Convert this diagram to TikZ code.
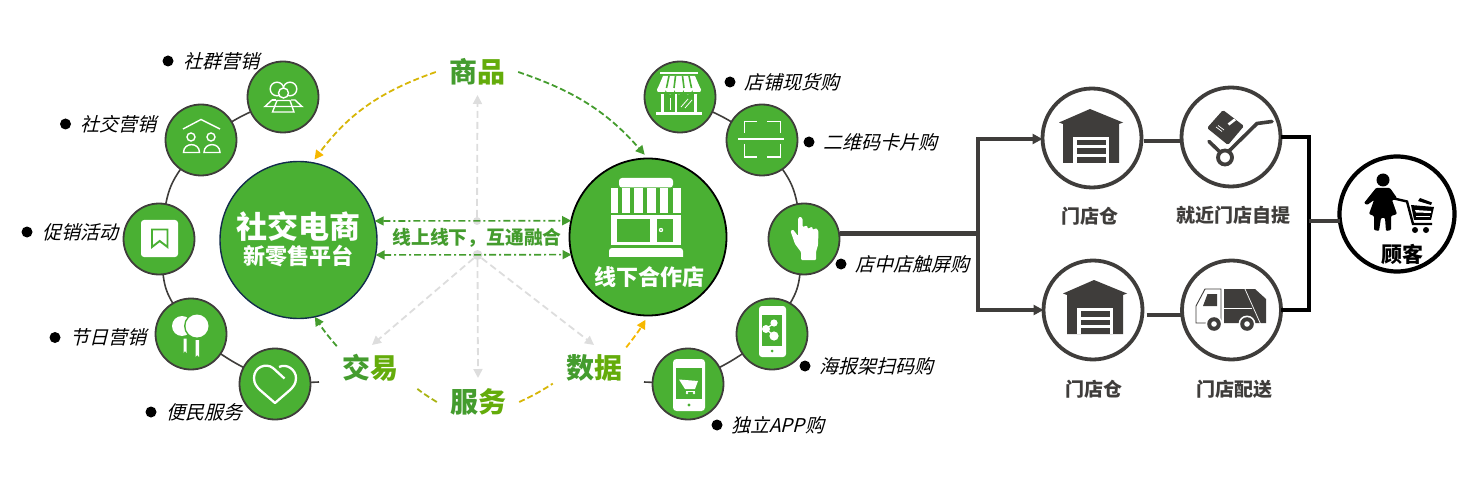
\documentclass[tikz,border=0pt]{standalone}
\usepackage{fontspec}
\usepackage{tikz}
\usetikzlibrary{arrows.meta,positioning,backgrounds}
\newfontfamily\cjk{Noto Sans CJK SC}
\newfontfamily\cjkslant[FakeSlant=0.25]{Noto Sans CJK SC}
\definecolor{leaf}{HTML}{4AB033}
\definecolor{deep}{HTML}{449C2E}
\definecolor{olive}{HTML}{A9B312}
\definecolor{amber}{HTML}{F6B800}
\definecolor{coal}{HTML}{3F3D3B}
\definecolor{pale}{HTML}{DDDDDD}
\begin{document}
\begin{tikzpicture}[x=1pt,y=-1pt,>={Triangle[length=9pt,width=9pt]}]
	\tikzstyle{Channel}	= [circle, draw=coal, line width=1.8pt, fill=leaf, minimum size=71pt, inner sep=0pt, outer sep=0pt]
	\tikzstyle{Hub}		= [circle, fill=leaf, minimum size=157pt, inner sep=0pt, outer sep=0pt]
	\tikzstyle{Ring}	= [circle, draw=coal, line width=3.8pt, fill=white, minimum size=99pt, inner sep=0pt, outer sep=0pt]
	\tikzstyle{Dot}		= [circle, fill=black, minimum size=11pt, inner sep=0pt]
	\tikzstyle{Tag}		= [font=\cjkslant\fontsize{19}{19}\selectfont, inner sep=0pt]
	\tikzstyle{Flow}	= [font=\cjk\bfseries\fontsize{28}{28}\selectfont, inner xsep=13pt, inner ysep=2pt]
	\tikzstyle{Name}	= [font=\cjk\bfseries\fontsize{19}{19}\selectfont, text=coal, inner sep=0pt]
	\tikzstyle{Arc}		= [line width=1.8pt, dash pattern=on 6pt off 3pt]
	\tikzstyle{Spoke}	= [line width=1.8pt, pale, dash pattern=on 7pt off 4pt]
	\tikzstyle{Both}	= [line width=1.6pt, deep, dash pattern=on 7pt off 3pt on 2pt off 3pt, <->]
	\tikzstyle{Link}	= [line width=1.6pt, coal]
	\tikzstyle{Pipe}	= [line width=3.6pt, coal]
	\tikzstyle{Wire}	= [draw=white, line width=1.4pt, fill=none]

	\useasboundingbox (0,0) rectangle (1472,489);

	% hubs
	\node (hubA) at (298.5,240) [Hub][draw={rgb:blue,1;black,2;leaf,1}, line width=1.4pt] {};
	\node (hubB) at (648,237) [Hub][draw=black, line width=1.8pt] {};
	\node at (298.5,226) [font=\cjk\bfseries\fontsize{31}{31}\selectfont, text=white] (hubAtop) {社交电商};
	\node at (298.5,256) [font=\cjk\bfseries\fontsize{22}{22}\selectfont, text=white] (hubAsub) {新零售平台};
	\node at (649,277) [font=\cjk\bfseries\fontsize{22}{22}\selectfont, text=white] (hubBsub) {线下合作店};

	% channels on the left
	\node (m1) at (283,97) [Channel] {};
	\node (m2) at (201,140) [Channel] {};
	\node (m3) at (159,239) [Channel] {};
	\node (m4) at (191,334) [Channel] {};
	\node (m5) at (275,384) [Channel] {};
	\coordinate (m6) at (319,382);

	% channels on the right
	\node (s1) at (680,97) [Channel] {};
	\node (s2) at (762,140) [Channel] {};
	\node (s3) at (804,239) [Channel] {};
	\node (s4) at (772,334) [Channel] {};
	\node (s5) at (688,384) [Channel] {};
	\coordinate (s6) at (644,382);

	\begin{scope}[on background layer]
		\draw[Link] (m1) to[bend right=3] (m2);
		\draw[Link] (m2) to[bend right=12] (m3);
		\draw[Link] (m3) to[bend right=12] (m4);
		\draw[Link] (m4) to[bend right=3] (m5);
		\draw[Link] (m5) -- (m6);
		\draw[Link] (s1) to[bend left=3] (s2);
		\draw[Link] (s2) to[bend left=12] (s3);
		\draw[Link] (s3) to[bend left=12] (s4);
		\draw[Link] (s4) to[bend left=3] (s5);
		\draw[Link] (s5) -- (s6);
	\end{scope}

	% labels with their bullets
	\node (b1) at (168,61) [Dot] {};
	\node (t1) [Tag, right=9.5pt of b1] {社群营销};
	\node (b2) at (65.5,124) [Dot] {};
	\node (t2) [Tag, right=9.5pt of b2] {社交营销};
	\node (b3) at (27,232) [Dot] {};
	\node (t3) [Tag, right=9.5pt of b3] {促销活动};
	\node (b4) at (55,337.5) [Dot] {};
	\node (t4) [Tag, right=9.5pt of b4] {节日营销};
	\node (b5) at (151,412) [Dot] {};
	\node (t5) [Tag, right=9.5pt of b5] {便民服务};
	\node (b6) at (730,82) [Dot] {};
	\node (t6) [Tag, right=8.5pt of b6] {店铺现货购};
	\node (b7) at (809,142) [Dot] {};
	\node (t7) [Tag, right=8.5pt of b7] {二维码卡片购};
	\node (b8) at (841,264) [Dot] {};
	\node (t8) [Tag, right=8.5pt of b8] {店中店触屏购};
	\node (b9) at (805,366) [Dot] {};
	\node (t9) [Tag, right=8.5pt of b9] {海报架扫码购};
	\node (b10) at (717,425) [Dot] {};
	\node (t10) [Tag, right=8.5pt of b10] {独立APP购};

	% centre of the wheel
	\node (c1) at (477,221) [circle, fill=pale, minimum size=8pt, inner sep=0pt] {};
	\node (c2) at (477.5,255) [circle, fill=pale, minimum size=10pt, inner sep=0pt] {};
	\coordinate (tipN) at (477.5,95);
	\coordinate (tipS) at (478,378);
	\coordinate (tipW) at (372,345);
	\coordinate (tipE) at (594,345);
	\draw[Spoke, ->] (c1) -- (tipN);
	\draw[Spoke, ->] (c2) -- (tipS);
	\draw[Spoke, ->] (c2) -- (tipW);
	\draw[Spoke, ->] (c2) -- (tipE);
	\draw[Both] (hubA.14) -- (hubB.168.3);
	\draw[Both] (hubA.-11.8) -- (hubB.193.9);
	\node (mix) at (477,238) [font=\cjk\bfseries\fontsize{18.8}{19}\selectfont, text=deep, inner sep=0pt] {线上线下，互通融合};

	\node (goods) at (477,72) [Flow] {\textcolor{deep}{商}\textcolor{green!30!olive!85!black}{品}};
	\node (trade) at (370,368) [Flow] {\textcolor{deep}{交}\textcolor{green!30!olive!85!black}{易}};
	\node (serve) at (478,402) [Flow] {\textcolor{deep}{服}\textcolor{green!30!olive!85!black}{务}};
	\node (data) at (594,368) [Flow] {\textcolor{deep}{数}\textcolor{green!30!olive!85!black}{据}};

	\draw[Arc, amber!60!olive, ->, >={Triangle[length=9pt,width=9pt,color=amber]}, shorten >=4pt] (goods.west) to[bend right=17] (hubA.80);
	\draw[Arc, deep, ->, shorten >=5pt] (goods.east) to[bend left=15] (hubB.90);
	\draw[Arc, deep, ->] ([xshift=8pt,yshift=6pt]trade.north west) to[bend left=4] (hubA.-78);
	\draw[Arc, olive, shorten >=8pt] (serve.west) to[bend left=4] (trade.south east);
	\draw[Arc, amber!60!olive] (serve.east) to[bend right=4] (data.south west);
	\draw[Arc, amber, ->, shorten >=5pt] ([xshift=-9pt,yshift=5pt]data.north east) to[bend right=4] (hubB.-90);

	% route towards the customer
	\node (w1) at (1092,138) [Ring] {};
	\node (d1) at (1231,137) [Ring] {};
	\node (w2) at (1093,310) [Ring] {};
	\node (d2) at (1231.5,310) [Ring] {};
	\node (you) at (1397,214) [circle, draw=black, line width=4.2pt, fill=white, minimum size=115pt, inner sep=0pt, outer sep=0pt] {};
	\coordinate (fork) at (978,233);
	\coordinate (join) at (1309,221);
	\draw[Pipe, line width=5pt] (s3.east |- fork) -- (fork);
	\draw[line width=3.6pt, coal, ->, >={Triangle[length=10pt,width=10pt]}] (fork) |- (w1.west |- 0,139);
	\draw[line width=3.6pt, coal, ->, >={Triangle[length=10pt,width=10pt]}] (fork) |- (w2.west |- 0,310);
	\draw[Pipe, shorten <=2pt] (w1.east |- 0,141) -- (d1.west |- 0,141);
	\draw[Pipe, shorten <=4pt] (w2.east |- 0,315) -- (d2.west |- 0,315);
	\draw[line width=4.4pt, black] (d1.east |- 0,137) -| (join) |- (d2.east |- 0,310);
	\draw[Pipe] (join) -- (you.west |- join);

	\node (n1) at (1089.5,216) [Name] {门店仓};
	\node (n2) at (1233,215) [Name] {就近门店自提};
	\node (n3) at (1093.5,389) [Name] {门店仓};
	\node (n4) at (1234.5,389) [Name] {门店配送};
	\node (n5) at (1402,254) [Name, font=\cjk\bfseries\fontsize{21}{22}\selectfont, text=black] {顾客};

	% icon: group
	\draw[Wire] (277,89) circle (6.8pt);
	\draw[Wire] (290,89) circle (6.8pt);
	\draw[Wire, fill=leaf] (283.5,93) circle (5pt);
	\draw[Wire] (272,100) -- (276,100);
	\draw[Wire] (291,100) -- (295,100) -- (302,106.5) -- (265,106.5) -- (272,100);
	\draw[Wire] (277,100.5) -- (290,100.5) -- (294,112) -- (272.5,112) -- cycle;
	% icon: house
	\draw[Wire] (183,129) -- (201,119.5) -- (220,129);
	\draw[Wire] (191,137) circle (4pt);
	\draw[Wire] (211,137) circle (4pt);
	\draw[Wire] (183.5,152.5) .. controls (183.5,142) and (199.5,142) .. (199.5,152.5) -- cycle;
	\draw[Wire] (204,152.5) .. controls (204,142) and (220,142) .. (220,152.5) -- cycle;
	% icon: bookmark
	\fill[white, rounded corners=3pt] (141,220) rectangle (178,257);
	\draw[leaf, line width=1.9pt] (152,229.5) -- (167.5,229.5) -- (167.5,247) -- (159.7,241) -- (152,247) -- cycle;
	% icon: balloons
	\fill[white] (182,326) circle (10pt);
	\fill[leaf] (197,326) circle (13pt);
	\fill[white] (197,326) circle (11.5pt);
	\fill[white] (183.5,338.5) -- (186.5,338.5) -- (186.5,353) -- (185,351) -- (183.5,353) -- cycle;
	\fill[white] (195.5,340) -- (199,340) -- (199,357) -- (197.2,355) -- (195.5,357) -- cycle;
	% icon: heart
	\draw[white, line width=2.3pt, line join=round] (284.5,378.5) -- (273,368) .. controls (266,362.5) and (254,367) .. (254,378) .. controls (254,384) and (257,387) .. (260,390) -- (275,403) -- (290,390) .. controls (293,387) and (296,384) .. (296,378) .. controls (296,370) and (287,363) .. (279,367);
	% icon: shop front
	\fill[white] (660,72) rectangle (698,74);
	\fill[white] (663,76) -- (695,76) -- (701,90) -- (657,90) -- cycle;
	\foreach \sx in {661.4,670.2,679,687.8,696.6}
		\fill[white] (\sx,90) circle (4.4pt);
	\foreach \sa/\sb in {669/666.5,675.5/674,682.5/684,689/691.5}
		\draw[leaf, line width=1.6pt] (\sa,76) -- (\sb,88);
	\fill[leaf] (657,92) rectangle (701,94.5);
	\fill[white] (661,94) rectangle (663.5,112);
	\fill[white] (694,94) rectangle (696.5,112);
	\fill[white] (675,94) rectangle (677,112);
	\fill[white] (656,112) rectangle (702,115) ;
	\draw[white, line width=1pt] (670,98) -- (670,110);
	\draw[white, line width=.8pt] (681,107) -- (688,99);
	\draw[white, line width=.8pt] (685,108) -- (692,100);
	% icon: scanner
	\draw[Wire] (757,121.5) -- (744.5,121.5) -- (744.5,133);
	\draw[Wire] (767,121.5) -- (780.5,121.5) -- (780.5,133);
	\draw[Wire] (744.5,144) -- (744.5,157) -- (757,157);
	\draw[Wire] (780.5,144) -- (780.5,157) -- (767,157);
	\fill[white] (738,138.5) rectangle (784,140);
	% icon: hand
	\fill[white, rounded corners=1pt] (801,260) -- (801,252) -- (795,244) -- (790.5,231) -- (793,229.5) -- (798,236) -- (798,218.5) -- (800,216.5) -- (802.5,218.5) -- (802.5,227) -- (807,225.5) -- (808,229) -- (812,226.5) -- (813,230) -- (816,228) -- (818.5,231) -- (818,245) -- (816,252) -- (816,260) -- cycle;
	% icon: poster phone
	\fill[white, rounded corners=3pt] (759,306) rectangle (786,357);
	\fill[leaf] (762,315) rectangle (782,346);
	\fill[leaf] (772,351) circle (1.5pt);
	\draw[white, line width=1.2pt] (774,323) -- (766,329) -- (774,336);
	\fill[white] (774,323) circle (3.6pt);
	\fill[white] (766,329) circle (4pt);
	\fill[white] (774,336) circle (4.6pt);
	% icon: app phone
	\fill[white, rounded corners=3.5pt] (673,359) rectangle (705,411);
	\fill[leaf] (676,368) rectangle (702,399);
	\fill[leaf] (689,405) circle (1.7pt);
	\fill[white] (679,379.5) -- (698,381) -- (695,389) -- (685,389) -- cycle;
	\fill[white] (686,390.5) rectangle (695,391.5);
	\fill[white] (687,393) circle (1.3pt);
	\fill[white] (694,393) circle (1.3pt);
	% icon: store
	\fill[white, rounded corners=3pt] (619,178) rectangle (673,187.5);
	\foreach \pa/\pb in {611/617.5,622/630,634/643,647/656,660/668,673/681}
		\fill[white] (\pa,188) rectangle (\pb,213);
	\fill[white] (611,215) rectangle (681,245);
	\fill[leaf] (617,219.5) rectangle (649.5,242);
	\fill[leaf] (657,219.5) rectangle (673,242);
	\fill[white] (661,230) circle (2.2pt);
	\fill[leaf] (661,230) circle (.9pt);
	\fill[white, rounded corners=3pt] (609,248) rectangle (683,260);
	\fill[leaf] (609,257) rectangle (683,261);

	% icon: warehouse
	\foreach \wx/\wy in {0/0,4/171} {
		\begin{scope}[shift={(\wx,\wy)}]
			\fill[coal] (1059,122.5) -- (1090,109) -- (1123,122.5) -- (1119,124) -- (1119,163) -- (1063,163) -- (1063,124) -- cycle;
			\fill[white] (1073,137) rectangle (1109,163);
			\fill[coal] (1077,140) rectangle (1106,145.5);
			\fill[coal] (1077,148.5) rectangle (1106,154);
			\fill[coal] (1077,157) rectangle (1106,163);
		\end{scope}
	}
	% icon: hand truck
	\fill[coal, rounded corners=1.5pt] (1223,110) -- (1244,126) -- (1228,145) -- (1207,128) -- cycle;
	\draw[white, line width=2.6pt] (1228.5,124.5) -- (1235,119.5);
	\draw[white, line width=.7pt] (1216,127) -- (1222,131.5);
	\draw[white, line width=.7pt] (1218,125.5) -- (1224,130);
	\draw[coal, line width=3.6pt, line cap=round, line join=round] (1272,121.5) -- (1257,123.5) -- (1229,151);
	\draw[coal, line width=3.6pt, line cap=round] (1209,141.5) -- (1220,152);
	\draw[coal, line width=3.8pt, fill=white] (1225,157.5) circle (7pt);
	% icon: truck
	\fill[coal] (1224,289) -- (1255,289) -- (1266,299) -- (1266,323) -- (1224,323) -- cycle;
	\draw[white, line width=.7pt] (1245,289) -- (1261,325);
	\draw[white, line width=.7pt] (1224,308) -- (1252,308);
	\draw[coal, line width=.9pt, fill=white] (1205,289) -- (1221,289) -- (1221,323) -- (1196,323) -- (1196,306) -- cycle;
	\fill[coal] (1203,306) -- (1207.5,294) -- (1217,294) -- (1217,306) -- cycle;
	\foreach \tx in {1214,1247} {
		\fill[white] (\tx,324) circle (8.5pt);
		\fill[coal] (\tx,324) circle (6.8pt);
		\fill[white] (\tx,324) circle (2.8pt);
	}
	% icon: customer
	\fill[black] (1383,180) circle (6.5pt);
	\fill[black, rounded corners=1pt] (1376,188) -- (1390,188) -- (1397,198) -- (1394,200) -- (1392,200) -- (1397,214) -- (1391,216) -- (1391,230) -- (1386,231) -- (1385,218) -- (1381,218) -- (1379,231) -- (1374,230) -- (1374,216) -- (1369,214) -- (1374,200) -- (1367,205) -- (1364,203) -- cycle;
	\draw[black, line width=2.4pt] (1394,198.5) -- (1407,201.5) -- (1413,224) -- (1432,224);
	\fill[black] (1411,205) -- (1434,207) -- (1431,220) -- (1414,220) -- cycle;
	\fill[white] (1415,210) -- (1431,211) -- (1431,213) -- (1416,212.5) -- cycle;
	\fill[white] (1416,216) -- (1430,216) -- (1430,217.5) -- (1416,217.5) -- cycle;
	\fill[black] (1420,198) -- (1432,202.5) -- (1431,205) -- (1418,201) -- cycle;
	\fill[black] (1415,230) circle (3pt);
	\fill[black] (1426,230) circle (3pt);
\end{tikzpicture}
\end{document}
